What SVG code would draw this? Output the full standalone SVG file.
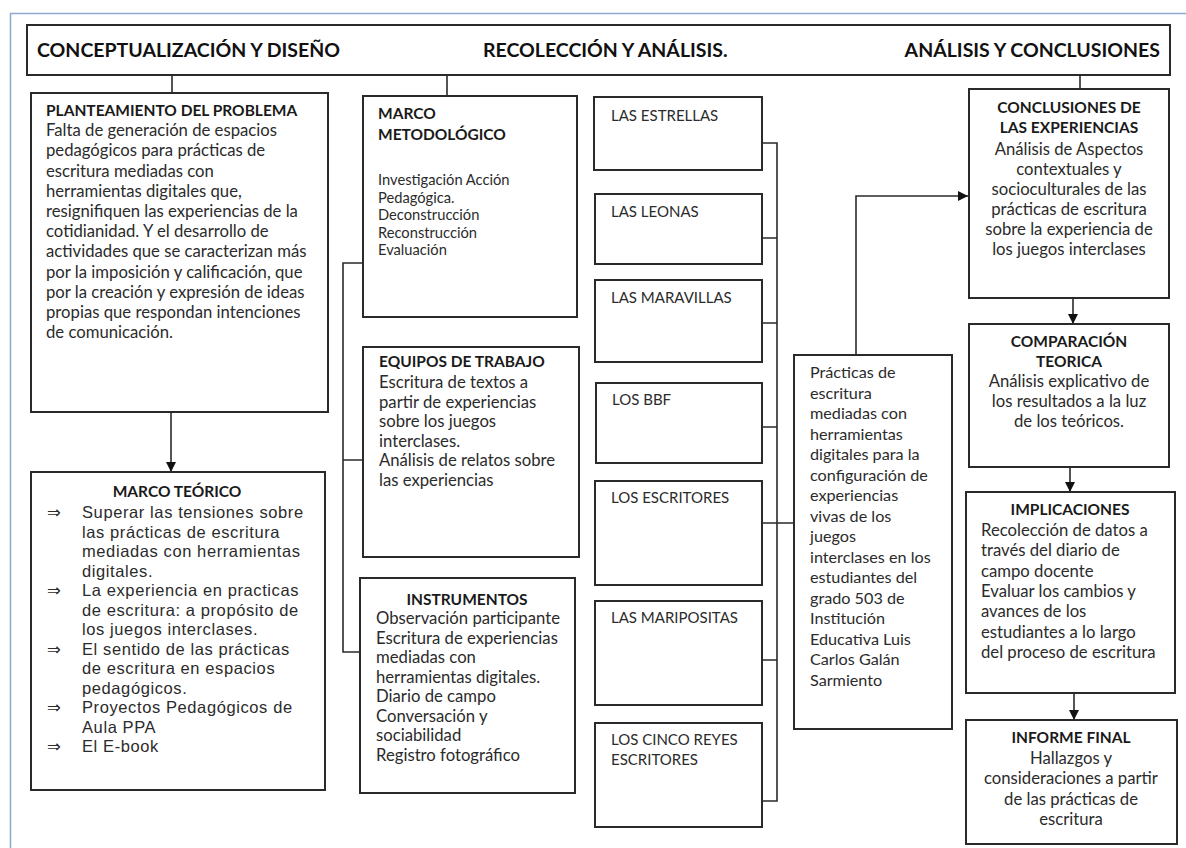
<svg xmlns="http://www.w3.org/2000/svg" width="1186" height="848" viewBox="0 0 1186 848">
<defs>
<marker id="ah" viewBox="0 0 10 10" refX="10" refY="5" markerWidth="10" markerHeight="10" markerUnits="userSpaceOnUse" orient="auto">
<path d="M0,0 L10,5 L0,10 z" fill="#111"/>
</marker>
<style>
.box{fill:#fff;stroke:#2a2a2a;stroke-width:2}
.ln{fill:none;stroke:#2a2a2a;stroke-width:1.6}
.t{font-family:Lato,"Liberation Sans",sans-serif;font-size:16.7px;fill:#2b2b2b}
.p{font-family:Lato,"Liberation Sans",sans-serif;font-size:16.2px;fill:#2b2b2b}
.b{font-family:Lato,"Liberation Sans",sans-serif;font-size:15.5px;font-weight:bold;fill:#1a1a1a}
.h{font-family:Lato,"Liberation Sans",sans-serif;font-size:19.5px;font-weight:bold;fill:#111}
.a{font-family:"Liberation Sans","DejaVu Sans",sans-serif;font-size:16.5px;letter-spacing:0.6px;fill:#2b2b2b}
.s{font-family:Lato,"Liberation Sans",sans-serif;font-size:14.7px;fill:#2b2b2b}
.g{font-family:Lato,"Liberation Sans",sans-serif;font-size:15px;fill:#2b2b2b}
.c{text-anchor:middle}
</style>
</defs>
<rect x="0" y="0" width="1186" height="848" fill="#fff"/>
<path d="M10.5,860 V13.5 H1190" fill="none" stroke="#8fa8cf" stroke-width="1.5"/>

<g id="connectors">
<path class="ln" d="M172,75 V93"/>
<path class="ln" d="M447,75 V96"/>
<path class="ln" d="M1080,75 V89"/>
<path class="ln" d="M171,412 V472" marker-end="url(#ah)"/>
<path class="ln" d="M363,263 H343 V652 H360 M343,460 H363"/>
<path class="ln" d="M762,143 H777 V801 H762 M762,238 H777 M762,323 H777 M762,427 H777 M762,523 H794 M762,660 H777"/>
<path class="ln" d="M856,355 V196 H968" marker-end="url(#ah)"/>
<path class="ln" d="M1073,298 V324" marker-end="url(#ah)"/>
<path class="ln" d="M1070,467 V492" marker-end="url(#ah)"/>
<path class="ln" d="M1074,693 V720" marker-end="url(#ah)"/>
</g>

<g id="header">
<rect class="box" x="27" y="25" width="1143" height="50"/>
<text class="h" x="37" y="57">CONCEPTUALIZACIÓN Y DISEÑO</text>
<text class="h" x="483" y="57">RECOLECCIÓN Y ANÁLISIS.</text>
<text class="h" x="1160" y="57" text-anchor="end">ANÁLISIS Y CONCLUSIONES</text>
</g>

<g id="planteamiento">
<rect class="box" x="31" y="93" width="297" height="319"/>
<text class="b" x="46" y="116">PLANTEAMIENTO DEL PROBLEMA</text>
<text class="t" x="46" y="136.2">Falta de generación de espacios<tspan x="46" dy="20.2">pedagógicos para prácticas de</tspan><tspan x="46" dy="20.2">escritura mediadas con</tspan><tspan x="46" dy="20.2">herramientas digitales que,</tspan><tspan x="46" dy="20.2">resignifiquen las experiencias de la</tspan><tspan x="46" dy="20.2">cotidianidad. Y el desarrollo de</tspan><tspan x="46" dy="20.2">actividades que se caracterizan más</tspan><tspan x="46" dy="20.2">por la imposición y calificación, que</tspan><tspan x="46" dy="20.2">por la creación y expresión de ideas</tspan><tspan x="46" dy="20.2">propias que respondan intenciones</tspan><tspan x="46" dy="20.2">de comunicación.</tspan></text>
</g>

<g id="marco-teorico">
<rect class="box" x="31" y="472" width="294" height="318"/>
<text class="b c" x="177" y="497">MARCO TEÓRICO</text>
<text class="a" x="47" y="518">⇒</text>
<text class="a" x="47" y="596">⇒</text>
<text class="a" x="47" y="654.5">⇒</text>
<text class="a" x="47" y="713">⇒</text>
<text class="a" x="47" y="752">⇒</text>
<text class="a" x="82" y="518">Superar las tensiones sobre<tspan x="82" dy="19.5">las prácticas de escritura</tspan><tspan x="82" dy="19.5">mediadas con herramientas</tspan><tspan x="82" dy="19.5">digitales.</tspan><tspan x="82" dy="19.5">La experiencia en practicas</tspan><tspan x="82" dy="19.5">de escritura: a propósito de</tspan><tspan x="82" dy="19.5">los juegos interclases.</tspan><tspan x="82" dy="19.5">El sentido de las prácticas</tspan><tspan x="82" dy="19.5">de escritura en espacios</tspan><tspan x="82" dy="19.5">pedagógicos.</tspan><tspan x="82" dy="19.5">Proyectos Pedagógicos de</tspan><tspan x="82" dy="19.5">Aula PPA</tspan><tspan x="82" dy="19.5">El E-book</tspan></text>
</g>

<g id="marco-metodologico">
<rect class="box" x="363" y="96" width="214" height="221"/>
<text class="b" x="378" y="119">MARCO<tspan x="378" dy="21">METODOLÓGICO</tspan></text>
<text class="s" x="378" y="185">Investigación Acción<tspan x="378" dy="17.5">Pedagógica.</tspan><tspan x="378" dy="17.5">Deconstrucción</tspan><tspan x="378" dy="17.5">Reconstrucción</tspan><tspan x="378" dy="17.5">Evaluación</tspan></text>
</g>

<g id="equipos">
<rect class="box" x="363" y="347" width="216" height="210"/>
<text class="b" x="379" y="367">EQUIPOS DE TRABAJO</text>
<text class="t" x="379" y="388">Escritura de textos a<tspan x="379" dy="19.5">partir de experiencias</tspan><tspan x="379" dy="19.5">sobre los juegos</tspan><tspan x="379" dy="19.5">interclases.</tspan><tspan x="379" dy="19.5">Análisis de relatos sobre</tspan><tspan x="379" dy="19.5">las experiencias</tspan></text>
</g>

<g id="instrumentos">
<rect class="box" x="360" y="578" width="215" height="215"/>
<text class="b c" x="467" y="605">INSTRUMENTOS</text>
<text class="t" x="376" y="624">Observación participante<tspan x="376" dy="19.5">Escritura de experiencias</tspan><tspan x="376" dy="19.5">mediadas con</tspan><tspan x="376" dy="19.5">herramientas digitales.</tspan><tspan x="376" dy="19.5">Diario de campo</tspan><tspan x="376" dy="19.5">Conversación y</tspan><tspan x="376" dy="19.5">sociabilidad</tspan><tspan x="376" dy="19.5">Registro fotográfico</tspan></text>
</g>

<g id="estrellas"><rect class="box" x="594" y="97" width="168" height="73"/><text class="g" x="611" y="121">LAS ESTRELLAS</text></g>
<g id="leonas"><rect class="box" x="595" y="194" width="167" height="70"/><text class="g" x="611" y="217">LAS LEONAS</text></g>
<g id="maravillas"><rect class="box" x="595" y="280" width="167" height="82"/><text class="g" x="611" y="303">LAS MARAVILLAS</text></g>
<g id="bbf"><rect class="box" x="596" y="383" width="166" height="80"/><text class="g" x="612" y="405">LOS BBF</text></g>
<g id="escritores"><rect class="box" x="595" y="481" width="167" height="104"/><text class="g" x="611" y="503">LOS ESCRITORES</text></g>
<g id="mariposita"><rect class="box" x="595" y="601" width="167" height="104"/><text class="g" x="611" y="623">LAS MARIPOSITAS</text></g>
<g id="cinco-reyes"><rect class="box" x="595" y="723" width="167" height="104"/><text class="g" x="611" y="745">LOS CINCO REYES<tspan x="611" dy="20">ESCRITORES</tspan></text></g>

<g id="practicas">
<rect class="box" x="794" y="355" width="158" height="374"/>
<text class="p" x="810" y="378">Prácticas de<tspan x="810" dy="20.5">escritura</tspan><tspan x="810" dy="20.5">mediadas con</tspan><tspan x="810" dy="20.5">herramientas</tspan><tspan x="810" dy="20.5">digitales para la</tspan><tspan x="810" dy="20.5">configuración de</tspan><tspan x="810" dy="20.5">experiencias</tspan><tspan x="810" dy="20.5">vivas de los</tspan><tspan x="810" dy="20.5">juegos</tspan><tspan x="810" dy="20.5">interclases en los</tspan><tspan x="810" dy="20.5">estudiantes del</tspan><tspan x="810" dy="20.5">grado 503 de</tspan><tspan x="810" dy="20.5">Institución</tspan><tspan x="810" dy="20.5">Educativa Luis</tspan><tspan x="810" dy="20.5">Carlos Galán</tspan><tspan x="810" dy="20.5">Sarmiento</tspan></text>
</g>

<g id="conclusiones">
<rect class="box" x="969" y="89" width="200" height="209"/>
<text class="b c" x="1069" y="113">CONCLUSIONES DE<tspan x="1069" dy="20">LAS EXPERIENCIAS</tspan></text>
<text class="t c" x="1069" y="155">Análisis de Aspectos<tspan x="1069" dy="20">contextuales y</tspan><tspan x="1069" dy="20">socioculturales de las</tspan><tspan x="1069" dy="20">prácticas de escritura</tspan><tspan x="1069" dy="20">sobre la experiencia de</tspan><tspan x="1069" dy="20">los juegos interclases</tspan></text>
</g>

<g id="comparacion">
<rect class="box" x="969" y="324" width="200" height="143"/>
<text class="b c" x="1069" y="347">COMPARACIÓN<tspan x="1069" dy="20">TEORICA</tspan></text>
<text class="t c" x="1069" y="387">Análisis explicativo de<tspan x="1069" dy="20">los resultados a la luz</tspan><tspan x="1069" dy="20">de los teóricos.</tspan></text>
</g>

<g id="implicaciones">
<rect class="box" x="966" y="492" width="209" height="201"/>
<text class="b c" x="1070" y="515">IMPLICACIONES</text>
<text class="t" x="981" y="536">Recolección de datos a<tspan x="981" dy="20.3">través del diario de</tspan><tspan x="981" dy="20.3">campo docente</tspan><tspan x="981" dy="20.3">Evaluar los cambios y</tspan><tspan x="981" dy="20.3">avances de los</tspan><tspan x="981" dy="20.3">estudiantes a lo largo</tspan><tspan x="981" dy="20.3">del proceso de escritura</tspan></text>
</g>

<g id="informe-final">
<rect class="box" x="966" y="720" width="211" height="124"/>
<text class="b c" x="1071" y="743">INFORME FINAL</text>
<text class="t c" x="1071" y="763.5">Hallazgos y<tspan x="1071" dy="20.5">consideraciones a partir</tspan><tspan x="1071" dy="20.5">de las prácticas de</tspan><tspan x="1071" dy="20.5">escritura</tspan></text>
</g>
</svg>
